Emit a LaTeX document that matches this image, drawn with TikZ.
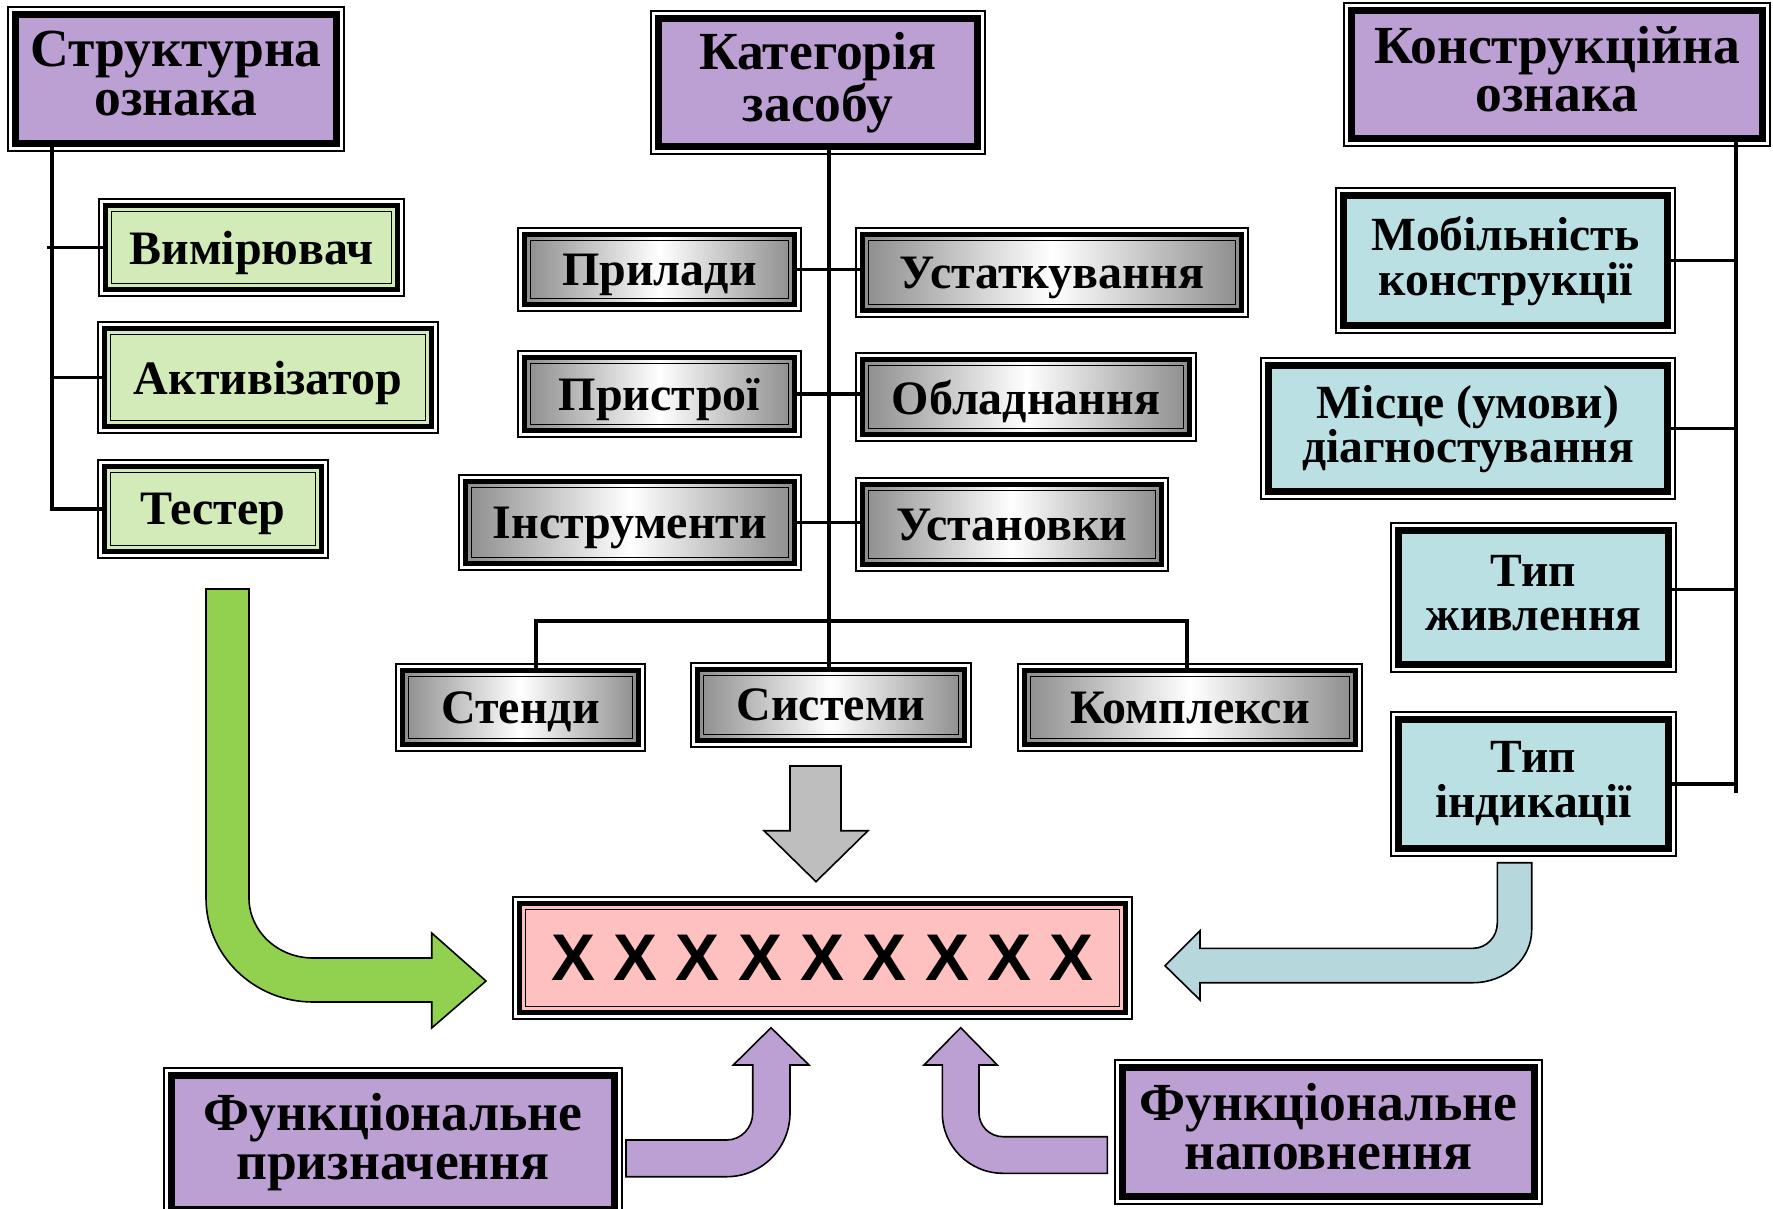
\documentclass[tikz,border=0pt]{standalone}
\usepackage{fontspec}
\setmainfont{Liberation Serif}
\newfontfamily\xfont{Liberation Sans}
\usetikzlibrary{calc}

\definecolor{hdrpurple}{RGB}{188,160,211}
\definecolor{boxgreen}{RGB}{211,234,185}
\definecolor{arrgreen}{RGB}{146,208,80}
\definecolor{boxcyan}{RGB}{187,224,227}
\definecolor{arrblue}{RGB}{182,215,220}
\definecolor{boxpink}{RGB}{255,192,192}
\definecolor{arrgray}{RGB}{190,190,190}
\definecolor{shadegray}{RGB}{140,140,140}

\tikzset{
  boxa/.style={draw=black, line width=3.5pt, inner sep=0pt, outer sep=0pt, align=center, text=black},
  boxb/.style={draw=black, line width=2.75pt, inner sep=0pt, outer sep=0pt, align=center, text=black},
  thinframe/.style={draw=black, line width=0.6pt},
  conn/.style={draw=black, line width=1.8pt},
  blockarrow/.style={draw=black, line width=0.8pt, line join=miter},
  hdrfont/.style={font=\bfseries\fontsize{26.8}{24.4}\selectfont, text depth=5.5pt},
  itemfont/.style={font=\bfseries\fontsize{24}{22}\selectfont, text depth=0pt},
  cyanfont/.style={font=\bfseries\fontsize{23.8}{22.2}\selectfont, text depth=4.5pt},
  botfont/.style={font=\bfseries\fontsize{26.8}{24.5}\selectfont, text depth=6pt},
  xxfont/.style={font=\xfont\bfseries\fontsize{33}{33}\selectfont},
  grayshade/.style={left color=shadegray, right color=shadegray, middle color=white},
}

% style A: thin outer line, gap, thick black band, fill
\newcommand\dboxA[7]{%
  \pgfmathsetmacro\bxw{(#5-#3-15)*0.5}%
  \pgfmathsetmacro\bxh{(#6-#4-15)*0.5}%
  \pgfmathsetmacro\bxc{(#3+#5)/2}%
  \pgfmathsetmacro\bxd{(#4+#6)/2}%
  \node[boxa,#1,minimum width=\bxw pt,minimum height=\bxh pt] (#2) at (\bxc,\bxd) {#7};
  \draw[thinframe] ([shift={(-3.75pt,3.75pt)}]#2.north west) rectangle ([shift={(3.75pt,-3.75pt)}]#2.south east);
}
% style B: thin outer line, gap, thick black band, gap, thin inner line, fill
\newcommand\dboxB[7]{%
  \pgfmathsetmacro\bxw{(#5-#3-13)*0.5}%
  \pgfmathsetmacro\bxh{(#6-#4-13)*0.5}%
  \pgfmathsetmacro\bxc{(#3+#5)/2}%
  \pgfmathsetmacro\bxd{(#4+#6)/2}%
  \node[boxb,#1,minimum width=\bxw pt,minimum height=\bxh pt] (#2) at (\bxc,\bxd) {#7};
  \draw[thinframe] ([shift={(-3.25pt,3.25pt)}]#2.north west) rectangle ([shift={(3.25pt,-3.25pt)}]#2.south east);
  \draw[thinframe, line width=0.75pt] ([shift={(3pt,-3pt)}]#2.north west) rectangle ([shift={(-3pt,3pt)}]#2.south east);
}

\begin{document}
\begin{tikzpicture}[x=0.5pt,y=-0.5pt]
\useasboundingbox (0,0) rectangle (1773,1209);

% ---------- block arrows ----------
% green bent arrow
\path[blockarrow, fill=arrgreen]
  (206,589) -- (206,898) .. controls (206,955.4) and (253.9,1002) .. (313,1002)
  -- (431.7,1002) -- (431.7,1028) -- (486,981) -- (431.7,933) -- (431.7,958)
  -- (313,958) .. controls (277.7,958) and (249,931.1) .. (249,898)
  -- (249,589) -- cycle;
% blue bent arrow
\path[blockarrow, fill=arrblue]
  (1497.3,862.7) -- (1497.3,923) .. controls (1497.3,937) and (1486.4,948.3) .. (1473,948.3)
  -- (1200,948.3) -- (1200,930.7) -- (1165,965.7) -- (1200,1000) -- (1200,982.7)
  -- (1473,982.7) .. controls (1505.4,982.7) and (1531.7,959.1) .. (1531.7,930)
  -- (1531.7,862.7) -- cycle;
% gray down arrow
\path[blockarrow, fill=arrgray]
  (790,766) -- (841,766) -- (841,830.7) -- (868,830.7) -- (816,881.7)
  -- (764,830.7) -- (790,830.7) -- cycle;
% left purple arrow
\path[blockarrow, fill=hdrpurple]
  (626,1140) -- (726.7,1140) .. controls (741.1,1140) and (752.7,1127.9) .. (752.7,1113)
  -- (752.7,1065) -- (733.3,1065) -- (771,1027.7) -- (809,1065) -- (790,1065)
  -- (790,1113) .. controls (790,1148.2) and (761.6,1176.7) .. (726.7,1176.7)
  -- (626,1176.7) -- cycle;
% right purple arrow
\path[blockarrow, fill=hdrpurple]
  (1107.3,1136.7) -- (1003,1136.7) .. controls (989.8,1136.7) and (979,1126.1) .. (979,1113)
  -- (979,1065) -- (997.3,1065) -- (960.7,1027.7) -- (924,1065) -- (942.3,1065)
  -- (942.3,1113) .. controls (942.3,1146.3) and (969.5,1173.3) .. (1003,1173.3)
  -- (1107.3,1173.3) -- cycle;

% ---------- headers ----------
\dboxA{fill=hdrpurple,hdrfont}{h1}{8}{7}{344}{151}{Структурна\\ознака}
\dboxA{fill=hdrpurple,hdrfont}{h2}{651}{11}{985}{154}{Категорія\\засобу}
\dboxA{fill=hdrpurple,hdrfont}{h3}{1344}{3}{1770}{146}{Конструкційна\\ознака}

% ---------- left (green) ----------
\dboxB{fill=boxgreen,itemfont}{t1}{99}{199}{404}{296}{Вимірювач}
\dboxB{fill=boxgreen,itemfont}{t2}{98}{322}{438}{433}{Активізатор}
\dboxB{fill=boxgreen,itemfont}{t3}{98}{460}{328}{558}{Тестер}

% ---------- middle (gray) ----------
\dboxB{grayshade,itemfont}{g1}{518}{228}{801}{311}{Прилади}
\dboxB{grayshade,itemfont}{g2}{856}{228}{1248}{317}{Устаткування}
\dboxB{grayshade,itemfont}{g3}{518}{351}{801}{437}{Пристрої}
\dboxB{grayshade,itemfont}{g4}{856}{353}{1196}{441}{Обладнання}
\dboxB{grayshade,itemfont}{g5}{459}{475}{801}{570}{Інструменти}
\dboxB{grayshade,itemfont}{g6}{856}{478}{1168}{571}{Установки}
\dboxB{grayshade,itemfont}{s1}{396}{664}{645}{751}{Стенди}
\dboxB{grayshade,itemfont}{s2}{691}{663}{971}{747}{Системи}
\dboxB{grayshade,itemfont}{s3}{1018}{664}{1362}{751}{Комплекси}

% ---------- right (cyan) ----------
\dboxA{fill=boxcyan,cyanfont}{c1}{1336}{188}{1675}{333}{Мобільність\\конструкції}
\dboxA{fill=boxcyan,cyanfont}{c2}{1261}{358}{1675}{499}{Місце (умови)\\діагностування}
\dboxA{fill=boxcyan,cyanfont}{c3}{1391}{523}{1676}{672}{Тип\\живлення}
\dboxA{fill=boxcyan,cyanfont}{c4}{1391}{712}{1676}{856}{Тип\\індикації}

% ---------- centre ----------
\dboxB{fill=boxpink,xxfont}{xx}{513}{897}{1132}{1019}{X X X X X X X X X}

% ---------- bottom ----------
\dboxA{fill=hdrpurple,botfont}{b1}{164}{1068}{622}{1217}{Функціональне\\призначення}
\dboxA{fill=hdrpurple,botfont}{b2}{1115}{1060}{1542}{1204}{Функціональне\\наповнення}

% ---------- connectors ----------
\coordinate (lx) at (51.7,0);
\draw[conn] (h1.south west -| lx) |- (t3.west);
\draw[conn] ([xshift=-2.5pt]t1.west -| lx) -- (t1.west);
\draw[conn] (t2.west -| lx) -- (t2.west);

\coordinate (mx) at (829,0);
\draw[conn] (h2.south -| mx) -- (s2.north -| mx);
\draw[conn] (g1.east) -- (g2.west |- g1.east);
\draw[conn] (g3.east) -- (g4.west |- g3.east);
\draw[conn] (g5.east) -- (g6.west |- g5.east);
\coordinate (j1) at (536,620.7);
\coordinate (j3) at (1187,620.7);
\draw[conn] (j1 |- s1.north) -- (j1) -- (j3) -- (j3 |- s3.north);

\coordinate (rx) at (1736,0);
\coordinate (rend) at (1736,793);
\draw[conn] (h3.south -| rx) -- (rend);
\draw[conn] (c1.east) -- (c1.east -| rx);
\draw[conn] (c2.east) -- (c2.east -| rx);
\draw[conn] ([yshift=4pt]c3.east) -- ([yshift=4pt]c3.east -| rx);
\draw[conn] (c4.east) -- (c4.east -| rx);
\end{tikzpicture}
\end{document}
